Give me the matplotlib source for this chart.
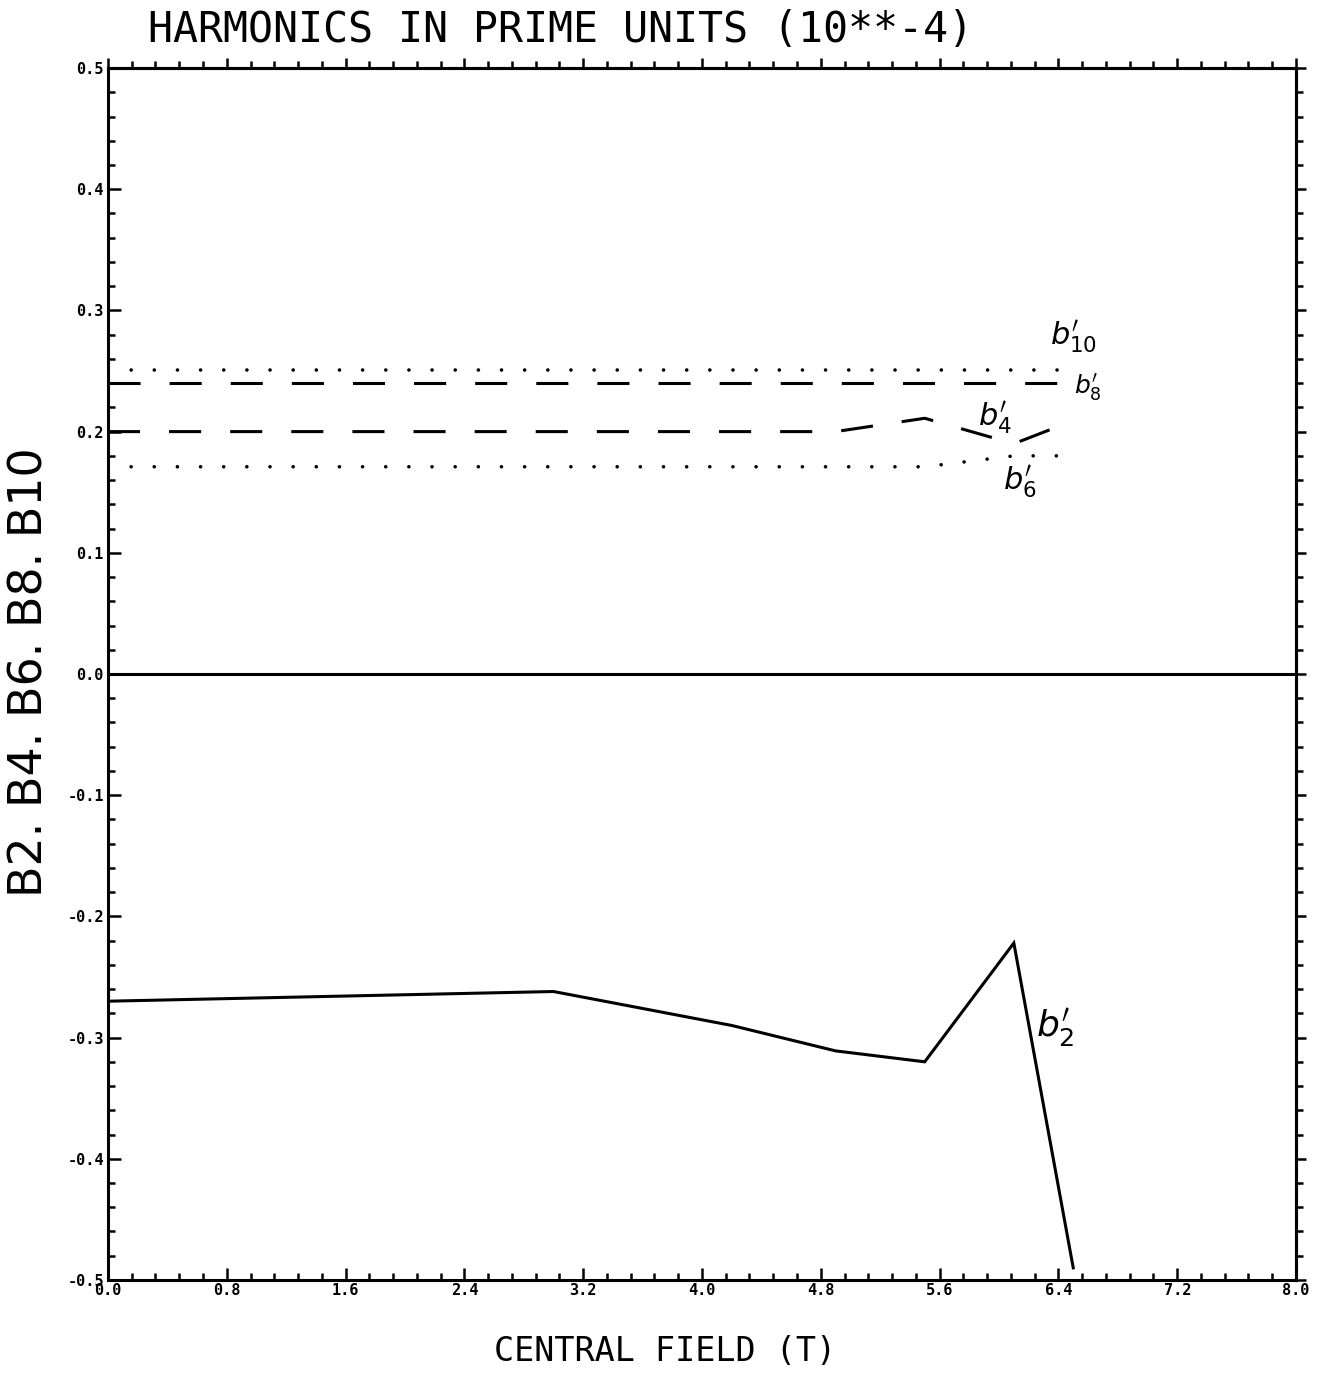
import matplotlib
matplotlib.use("AGG")
import matplotlib.pyplot as plt
from matplotlib.ticker import MultipleLocator, FormatStrFormatter

# 磁場 (T) と各ハーモニクス（prime units, 10**-4）
field = [0.0, 3.0, 4.2, 4.9, 5.5, 6.1, 6.5]
b2 = [-0.270, -0.262, -0.290, -0.311, -0.320, -0.222, -0.490]
b4 = [0.200, 0.200, 0.200, 0.200, 0.211, 0.190, 0.209]
b6 = [0.171, 0.171, 0.171, 0.171, 0.171, 0.180, 0.180]
b8 = [0.240, 0.240, 0.240, 0.240, 0.240, 0.240, 0.240]
b10 = [0.251, 0.251, 0.251, 0.251, 0.251, 0.251, 0.251]

x_ticks = [0.0, 0.8, 1.6, 2.4, 3.2, 4.0, 4.8, 5.6, 6.4, 7.2, 8.0]
y_ticks = [-0.5, -0.4, -0.3, -0.2, -0.1, 0.0, 0.1, 0.2, 0.3, 0.4, 0.5]

LW = 2.2
mono = "DejaVu Sans Mono"

fig = plt.figure(figsize=(13.31, 13.80), dpi=100)
ax = fig.add_axes([0.0811, 0.0725, 0.8926, 0.8782])

ax.plot(field, b2, color="k", lw=LW, solid_joinstyle="miter")
ax.plot(field, b4, color="k", lw=LW, dashes=(10.5, 9.5), dash_capstyle="butt")
ax.plot(field, b8, color="k", lw=LW, dashes=(10.5, 9.5), dash_capstyle="butt")
ax.plot(field, b6, color="k", lw=2.6, dashes=(0.01, 6.4), dash_capstyle="round")
ax.plot(field, b10, color="k", lw=2.6, dashes=(0.01, 6.4), dash_capstyle="round")
ax.axhline(0.0, color="k", lw=LW)

ax.set_xlim(0, 8)
ax.set_ylim(-0.5, 0.5)
ax.set_xticks(x_ticks)
ax.set_yticks(y_ticks)
ax.xaxis.set_minor_locator(MultipleLocator(0.16))
ax.yaxis.set_minor_locator(MultipleLocator(0.02))
ax.xaxis.set_major_formatter(FormatStrFormatter("%.1f"))
ax.yaxis.set_major_formatter(FormatStrFormatter("%.1f"))
ax.tick_params(which="both", direction="in", width=1.8, top=False, right=False)
ax.tick_params(which="major", length=9)
ax.tick_params(which="minor", length=5)
ax.tick_params(axis="x", pad=2)
ax.tick_params(axis="y", pad=3)
for lab in ax.get_xticklabels() + ax.get_yticklabels():
    lab.set_fontfamily(mono)
    lab.set_fontweight("bold")
    lab.set_fontsize(11)
for sp in ax.spines.values():
    sp.set_linewidth(LW)

# 上と右の目盛りは外向き
top = ax.secondary_xaxis("top")
top.set_xticks(x_ticks)
top.xaxis.set_minor_locator(MultipleLocator(0.16))
top.tick_params(which="both", direction="out", width=1.8, labeltop=False)
top.tick_params(which="major", length=7)
top.tick_params(which="minor", length=5)
right = ax.secondary_yaxis("right")
right.set_yticks(y_ticks)
right.yaxis.set_minor_locator(MultipleLocator(0.02))
right.tick_params(which="both", direction="out", width=1.8, labelright=False)
right.tick_params(which="major", length=7)
right.tick_params(which="minor", length=5)
top.spines["top"].set_linewidth(LW)
right.spines["right"].set_linewidth(LW)

# 手書きの注記
note = dict(fontsize=22, color="k", ha="center", va="center")
ax.text(6.50, 0.278, r"$b^{\prime}_{10}$", **note)
ax.text(6.60, 0.236, r"$b^{\prime}_{8}$", fontsize=18, color="k", ha="center", va="center")
ax.text(5.97, 0.211, r"$b^{\prime}_{4}$", **note)
ax.text(6.14, 0.158, r"$b^{\prime}_{6}$", **note)
ax.text(6.38, -0.292, r"$b^{\prime}_{2}$", fontsize=26, color="k", ha="center", va="center")

fig.text(0.111, 1 - 30 / 1380, "HARMONICS IN PRIME UNITS (10**-4)",
         family=mono, fontsize=30, ha="left", va="center")
fig.text(0.4996, 0.0203, "CENTRAL FIELD (T)", family=mono, fontsize=24,
         ha="center", va="center")
fig.text(0.0225, 0.513, "B2. B4. B6. B8. B10", family="DejaVu Sans",
         fontsize=33, rotation=90, ha="center", va="center")

fig.savefig("out.png", dpi=100)
